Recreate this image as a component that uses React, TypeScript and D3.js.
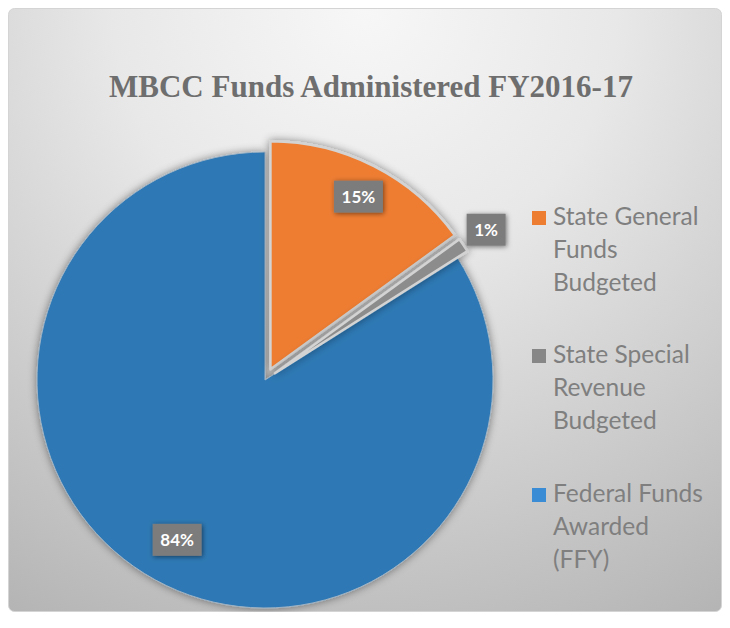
import React, { useRef, useEffect } from 'react';
import * as d3 from 'd3';

const categories = [
  'State General Funds Budgeted',
  'State Special Revenue Budgeted',
  'Federal Funds Awarded (FFY)',
];
const legendLines = [
  ['State General', 'Funds', 'Budgeted'],
  ['State Special', 'Revenue', 'Budgeted'],
  ['Federal Funds', 'Awarded', '(FFY)'],
];
const shares = [15, 1, 84];
const labels = ['15%', '1%', '84%'];

const sliceColors = ['#EE7D31', '#8C8C8C', '#2E79B5'];
const legendColors = ['#ED7D31', '#878787', '#3A8DD5'];

const W = 714;
const H = 604;

function App() {
  const ref = useRef<SVGSVGElement>(null);

  useEffect(() => {
    const svg = d3.select(ref.current);
    svg.selectAll('*').remove();

    const defs = svg.append('defs');
    const bg = defs.append('radialGradient')
      .attr('id', 'bg')
      .attr('gradientUnits', 'userSpaceOnUse')
      .attr('cx', W / 2).attr('cy', 0).attr('r', 720);
    bg.append('stop').attr('offset', 0).attr('stop-color', '#f7f7f7');
    bg.append('stop').attr('offset', 0.35).attr('stop-color', '#e8e8e8');
    bg.append('stop').attr('offset', 1).attr('stop-color', '#b2b2b2');

    const shadow = defs.append('filter').attr('id', 'shadow')
      .attr('x', '-20%').attr('y', '-20%').attr('width', '140%').attr('height', '140%');
    shadow.append('feDropShadow')
      .attr('dx', 0).attr('dy', 0).attr('stdDeviation', 4)
      .attr('flood-color', '#000').attr('flood-opacity', 0.45);

    const boxShadow = defs.append('filter').attr('id', 'boxShadow')
      .attr('x', '-30%').attr('y', '-30%').attr('width', '160%').attr('height', '160%');
    boxShadow.append('feDropShadow')
      .attr('dx', 1).attr('dy', 1).attr('stdDeviation', 2.5)
      .attr('flood-color', '#000').attr('flood-opacity', 0.5);

    svg.append('rect')
      .attr('x', 0.5).attr('y', 0.5)
      .attr('width', W - 1).attr('height', H - 1)
      .attr('rx', 6)
      .attr('fill', 'url(#bg)')
      .attr('stroke', '#d4d4d4');

    svg.append('text')
      .attr('x', 363).attr('y', 89)
      .attr('text-anchor', 'middle')
      .attr('font-family', '"Liberation Serif", "Times New Roman", serif')
      .attr('font-weight', 'bold')
      .attr('font-size', 31)
      .attr('fill', '#6e6e6e')
      .text('MBCC Funds Administered FY2016-17');

    const R = 228;
    const cx = 257;
    const cy = 372;
    const explode = [12, 12, 0];
    const labelRadius = [0.85, 1.12, 0.8];

    const pie = d3.pie<number>().sort(null).value(d => d);
    const arcs = pie(shares);
    const arc = d3.arc<d3.PieArcDatum<number>>().innerRadius(0).outerRadius(R);

    const g = svg.append('g').attr('transform', `translate(${cx},${cy})`);

    const offset = (d: d3.PieArcDatum<number>, i: number) => {
      const a = (d.startAngle + d.endAngle) / 2;
      return [Math.sin(a) * explode[i], -Math.cos(a) * explode[i]];
    };

    // blue first so the pulled-out slices sit on top
    const order = [2, 0, 1];
    order.forEach(i => {
      const d = arcs[i];
      const [ox, oy] = offset(d, i);
      g.append('path')
        .attr('transform', `translate(${ox},${oy})`)
        .attr('d', arc(d) as string)
        .attr('fill', sliceColors[i])
        .attr('stroke', i === 2 ? '#9fb3c4' : '#d3d3d3')
        .attr('stroke-width', i === 2 ? 1 : 2.5)
        .attr('stroke-linejoin', 'round')
        .attr('filter', 'url(#shadow)');
    });

    arcs.forEach((d, i) => {
      const [ox, oy] = offset(d, i);
      const a = (d.startAngle + d.endAngle) / 2;
      const r = R * labelRadius[i];
      const x = ox + Math.sin(a) * r;
      const y = oy - Math.cos(a) * r;
      const lg = g.append('g').attr('transform', `translate(${x},${y})`);
      const bw = labels[i].length > 2 ? 49 : 39;
      lg.append('rect')
        .attr('x', -bw / 2).attr('y', -16)
        .attr('width', bw).attr('height', 32)
        .attr('fill', '#7c7c7c')
        .attr('filter', 'url(#boxShadow)');
      lg.append('text')
        .attr('text-anchor', 'middle')
        .attr('dy', 6)
        .attr('font-family', 'Lato, "Open Sans", sans-serif')
        .attr('font-weight', 'bold')
        .attr('font-size', 17)
        .attr('fill', '#ffffff')
        .text(labels[i]);
    });

    const legend = svg.append('g').attr('transform', 'translate(524,0)');
    const groupY = [217, 355, 494];
    categories.forEach((c, i) => {
      const lg = legend.append('g')
        .attr('transform', `translate(0,${groupY[i]})`)
        .attr('aria-label', c);
      lg.append('rect')
        .attr('x', 0).attr('y', -14)
        .attr('width', 14).attr('height', 14)
        .attr('fill', legendColors[i]);
      legendLines[i].forEach((line, j) => {
        lg.append('text')
          .attr('x', 21).attr('y', j * 33)
          .attr('font-family', 'Lato, "Open Sans", sans-serif')
          .attr('font-size', 24.5)
          .attr('fill', '#7f7f7f')
          .text(line);
      });
    });
  }, []);

  return <svg ref={ref} width={W} height={H} style={{ display: 'block' }}></svg>;
}

export default App;
